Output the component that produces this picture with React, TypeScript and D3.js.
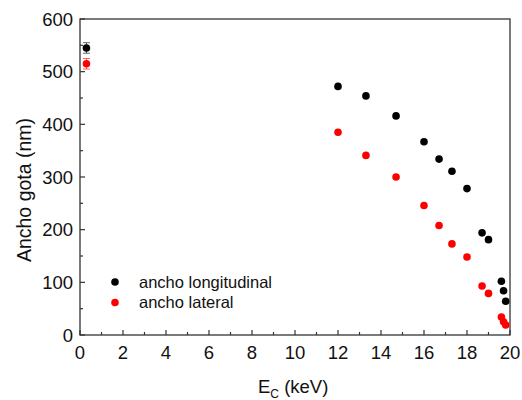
import React from "react";
import * as d3 from "d3";

// ancho longitudinal (black)
const longX = [0.3, 12.0, 13.3, 14.7, 16.0, 16.7, 17.3, 18.0, 18.7, 19.0, 19.6, 19.7, 19.8];
const longY = [545, 472, 454, 416, 367, 334, 311, 278, 194, 181, 102, 84, 64];
const longErr = [10, 0, 0, 0, 0, 0, 0, 0, 0, 0, 0, 0, 0];

// ancho lateral (red)
const latX = [0.3, 12.0, 13.3, 14.7, 16.0, 16.7, 17.3, 18.0, 18.7, 19.0, 19.6, 19.7, 19.8];
const latY = [515, 385, 341, 300, 246, 208, 173, 148, 93, 79, 34, 25, 19];
const latErr = [10, 0, 0, 0, 0, 0, 0, 0, 0, 0, 0, 0, 0];

const xTicks = [0, 2, 4, 6, 8, 10, 12, 14, 16, 18, 20];
const yTicks = [0, 100, 200, 300, 400, 500, 600];
const legendLabels = ["ancho longitudinal", "ancho lateral"];
const colors = ["#000000", "#ff0000"];

const W = 522;
const H = 400;
const m = { left: 80, right: 12, top: 19, bottom: 65 };

export default function App() {
  const x = d3.scaleLinear().domain([0, 20]).range([m.left, W - m.right]);
  const y = d3.scaleLinear().domain([0, 600]).range([H - m.bottom, m.top]);
  const x0 = x.range()[0], x1 = x.range()[1];
  const y0 = y.range()[0], y1 = y.range()[1];
  const font = "'Liberation Sans', Arial, sans-serif";
  const axisColor = "#333";

  const series = [
    { xs: longX, ys: longY, err: longErr, color: colors[0] },
    { xs: latX, ys: latY, err: latErr, color: colors[1] },
  ];

  const xMinor = d3.range(1, 20, 2);
  const yMinor = d3.range(50, 600, 100);

  return (
    <svg width={W} height={H} style={{ position: "absolute", left: 0, top: 0 }} fontFamily={font}>
      <rect x={0} y={0} width={W} height={H} fill="#fff" />
      {/* ticks */}
      {xTicks.map((t) => (
        <line key={"xt" + t} x1={x(t)} x2={x(t)} y1={y0} y2={y0 - 5} stroke={axisColor} strokeWidth={1.2} />
      ))}
      {xMinor.map((t) => (
        <line key={"xm" + t} x1={x(t)} x2={x(t)} y1={y0} y2={y0 - 3} stroke={axisColor} strokeWidth={1.2} />
      ))}
      {yTicks.map((t) => (
        <line key={"yt" + t} x1={x0} x2={x0 + 5} y1={y(t)} y2={y(t)} stroke={axisColor} strokeWidth={1.2} />
      ))}
      {yMinor.map((t) => (
        <line key={"ym" + t} x1={x0} x2={x0 + 3} y1={y(t)} y2={y(t)} stroke={axisColor} strokeWidth={1.2} />
      ))}
      <rect x={x0} y={y1} width={x1 - x0} height={y0 - y1} fill="none" stroke={axisColor} strokeWidth={1.3} />

      {/* tick labels */}
      {xTicks.map((t) => (
        <text key={"xl" + t} x={x(t)} y={y0 + 24} fontSize={18.5} textAnchor="middle" fill="#111">
          {t}
        </text>
      ))}
      {yTicks.map((t) => (
        <text key={"yl" + t} x={x0 - 7} y={y(t) + 6.5} fontSize={18.5} textAnchor="end" fill="#111">
          {t}
        </text>
      ))}

      {/* axis titles */}
      <text x={258} y={393} fontSize={18.5} fill="#111">
        E<tspan fontSize={12} dy={5}>C</tspan>
        <tspan dy={-5}> (keV)</tspan>
      </text>
      <text transform="translate(31,190) rotate(-90)" fontSize={19.5} textAnchor="middle" fill="#111">
        Ancho gota (nm)
      </text>

      {/* data */}
      {series.map((s, si) => (
        <g key={"s" + si}>
          {s.xs.map((xv, i) =>
            s.err[i] > 0 ? (
              <g key={"e" + i} stroke={s.color} strokeOpacity={0.6} strokeWidth={1}>
                <line x1={x(xv)} x2={x(xv)} y1={y(s.ys[i] - s.err[i])} y2={y(s.ys[i] + s.err[i])} />
                <line x1={x(xv) - 3.5} x2={x(xv) + 3.5} y1={y(s.ys[i] - s.err[i])} y2={y(s.ys[i] - s.err[i])} />
                <line x1={x(xv) - 3.5} x2={x(xv) + 3.5} y1={y(s.ys[i] + s.err[i])} y2={y(s.ys[i] + s.err[i])} />
              </g>
            ) : null
          )}
          {s.xs.map((xv, i) => (
            <circle key={"c" + i} cx={x(xv)} cy={y(s.ys[i])} r={3.8} fill={s.color} />
          ))}
        </g>
      ))}

      {/* legend */}
      {legendLabels.map((l, i) => (
        <g key={"lg" + i}>
          <circle cx={115} cy={282 + i * 20.5} r={3.8} fill={colors[i]} />
          <text x={139} y={287.5 + i * 20.5} fontSize={16.5} fill="#111">
            {l}
          </text>
        </g>
      ))}
    </svg>
  );
}
